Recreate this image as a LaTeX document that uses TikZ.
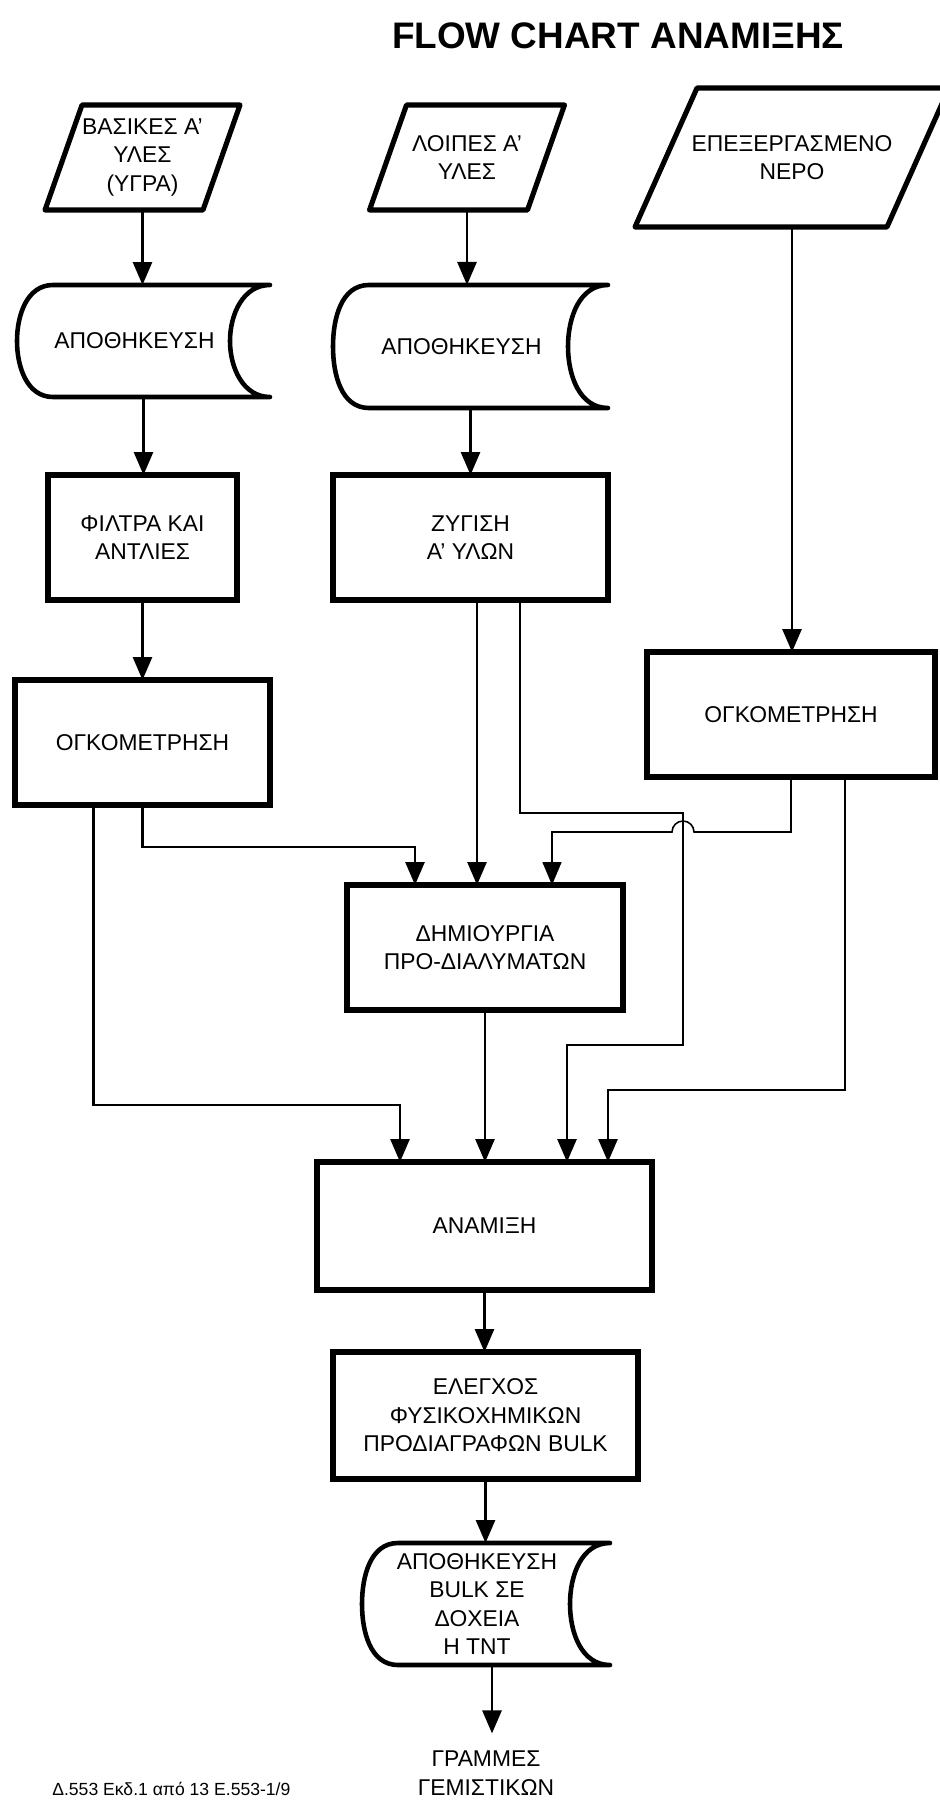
\documentclass[tikz,border=0pt]{standalone}
\usepackage{fontspec}
\setmainfont{Liberation Sans}
\usetikzlibrary{arrows.meta}

% outlines drawn round the (invisible) text nodes
\newcommand{\paraoutline}[2]{%
	\draw[shapeline] ([xshift=#2]#1.north west) -- (#1.north east) -- ([xshift=-#2]#1.south east) -- (#1.south west) -- cycle;}
\newcommand{\storeoutline}[1]{%
	\draw[storeline] ([xshift=0.72cm]#1.north west) -- (#1.north east)
		to[out=180,in=90] ([xshift=-0.8cm]#1.east) to[out=-90,in=180] (#1.south east)
		-- ([xshift=0.72cm]#1.south west) to[out=180,in=-90] (#1.west)
		to[out=90,in=180] ([xshift=0.72cm]#1.north west);}
% text line set a little left of the store centre
\newcommand{\storetext}[1]{\mbox{#1\hspace{0.36cm}}}

\begin{document}
\begin{tikzpicture}[
	edge/.style={-{Triangle[length=0.46cm,width=0.38cm]},line width=1.6pt},
	thinedge/.style={edge,line width=0.9pt}
	]
	\path[use as bounding box,fill=white] (0,0) rectangle (18.8,-36);
	\tikzstyle{textlabel} = [align=center,inner sep=0pt,outer sep=0pt,font=\fontsize{13}{16.2}\selectfont]
	\tikzstyle{procbox} = [textlabel,draw,line width=3.1pt]
	\tikzstyle{inbox} = [textlabel]
	\tikzstyle{storebox} = [textlabel]
	\tikzstyle{shapeline} = [line width=2.9pt,line join=round]
	\tikzstyle{storeline} = [line width=2.6pt,line join=round]

	\node[font=\bfseries\fontsize{21}{25}\selectfont] (title) at (12.36,-0.72) {FLOW CHART ΑΝΑΜΙΞΗΣ};

	% inputs
	\node[inbox,minimum width=3.9cm,minimum height=2.1cm] (p1) at (2.85,-3.15) {ΒΑΣΙΚΕΣ Α'\\ΥΛΕΣ\\(ΥΓΡΑ)};
	\node[inbox,minimum width=3.9cm,minimum height=2.1cm] (p2) at (9.34,-3.15) {ΛΟΙΠΕΣ Α'\\ΥΛΕΣ};
	\node[inbox,minimum width=6.28cm,minimum height=2.78cm] (p3) at (15.84,-3.15) {ΕΠΕΞΕΡΓΑΣΜΕΝΟ\\ΝΕΡΟ};
	\paraoutline{p1}{0.74cm}
	\paraoutline{p2}{0.74cm}
	\paraoutline{p3}{1.24cm}

	% storage
	\node[storebox,minimum width=5.06cm,minimum height=2.24cm] (st1) at (2.87,-6.82) {\storetext{ΑΠΟΘΗΚΕΥΣΗ}};
	\node[storebox,minimum width=5.5cm,minimum height=2.46cm] (st2) at (9.41,-6.93) {\storetext{ΑΠΟΘΗΚΕΥΣΗ}};
	\storeoutline{st1}
	\storeoutline{st2}

	% processes
	\node[procbox,minimum width=3.78cm,minimum height=2.5cm] (box1) at (2.85,-10.75) {ΦΙΛΤΡΑ ΚΑΙ\\ΑΝΤΛΙΕΣ};
	\node[procbox,minimum width=5.5cm,minimum height=2.5cm] (box2) at (9.41,-10.75) {ΖΥΓΙΣΗ\\Α' ΥΛΩΝ};
	\node[procbox,minimum width=5.1cm,minimum height=2.5cm] (og1) at (2.85,-14.85) {ΟΓΚΟΜΕΤΡΗΣΗ};
	\node[procbox,minimum width=5.76cm,minimum height=2.5cm] (og2) at (15.82,-14.29) {ΟΓΚΟΜΕΤΡΗΣΗ};
	\node[procbox,minimum width=5.52cm,minimum height=2.5cm] (dim) at (9.7,-18.95) {ΔΗΜΙΟΥΡΓΙΑ\\ΠΡΟ-ΔΙΑΛΥΜΑΤΩΝ};
	\node[procbox,minimum width=6.7cm,minimum height=2.56cm] (mix) at (9.69,-24.52) {ΑΝΑΜΙΞΗ};
	\node[procbox,minimum width=6.1cm,minimum height=2.54cm] (chk) at (9.71,-28.31) {ΕΛΕΓΧΟΣ\\ΦΥΣΙΚΟΧΗΜΙΚΩΝ\\ΠΡΟΔΙΑΓΡΑΦΩΝ BULK};
	\node[storebox,minimum width=4.96cm,minimum height=2.44cm] (st3) at (9.72,-32.08) {\storetext{ΑΠΟΘΗΚΕΥΣΗ}\\\storetext{BULK ΣΕ}\\\storetext{ΔΟΧΕΙΑ}\\\storetext{Η ΤΝΤ}};
	\storeoutline{st3}
	\node[textlabel,inner ysep=0.35cm] (out) at (9.72,-35.46) {ΓΡΑΜΜΕΣ\\ΓΕΜΙΣΤΙΚΩΝ};

	\node[font=\fontsize{10}{12}\selectfont,anchor=base west,inner sep=0pt] (ref) at (1.04,-35.9) {Δ.553 Εκδ.1 από 13 Ε.553-1/9};

	% flows
	\draw[edge] (p1.south) -- (p1.south |- st1.north);
	\draw[edge] (p2.south) -- (p2.south |- st2.north);
	\draw[edge] (p3.south) -- (p3.south |- og2.north);
	\draw[edge] (st1.south) -- (st1.south |- box1.north);
	\draw[edge] (st2.south) -- (st2.south |- box2.north);
	\draw[edge] (box1.south) -- (box1.south |- og1.north);
	\draw[edge] ([xshift=-0.98cm]og1.south) -- ++(0,-6) -| ([xshift=-1.69cm]mix.north);
	\draw[edge] (og1.south) -- ++(0,-0.84) -| ([xshift=-1.4cm]dim.north);
	\draw[edge] ([xshift=0.13cm]box2.south) -- ([xshift=0.13cm]box2.south |- dim.north);
	\draw[edge] ([xshift=0.99cm]box2.south) -- ++(0,-4.26) -- ++(3.26,0) -- ++(0,-4.64) -| ([xshift=1.65cm]mix.north);
	\draw[thinedge] (og2.south) -- ++(0,-1.1) -- ++(-1.94,0) arc (0:180:0.22) -| ([xshift=1.34cm]dim.north);
	\draw[edge] ([xshift=1.08cm]og2.south) -- ++(0,-6.26) -| ([xshift=2.47cm]mix.north);
	\draw[edge] (dim.south) -- (dim.south |- mix.north);
	\draw[edge] (mix.south) -- (mix.south |- chk.north);
	\draw[edge] (chk.south) -- (chk.south |- st3.north);
	\draw[edge] ([xshift=0.12cm]st3.south) -- ([xshift=0.12cm]st3.south |- out.north);
\end{tikzpicture}
\end{document}
